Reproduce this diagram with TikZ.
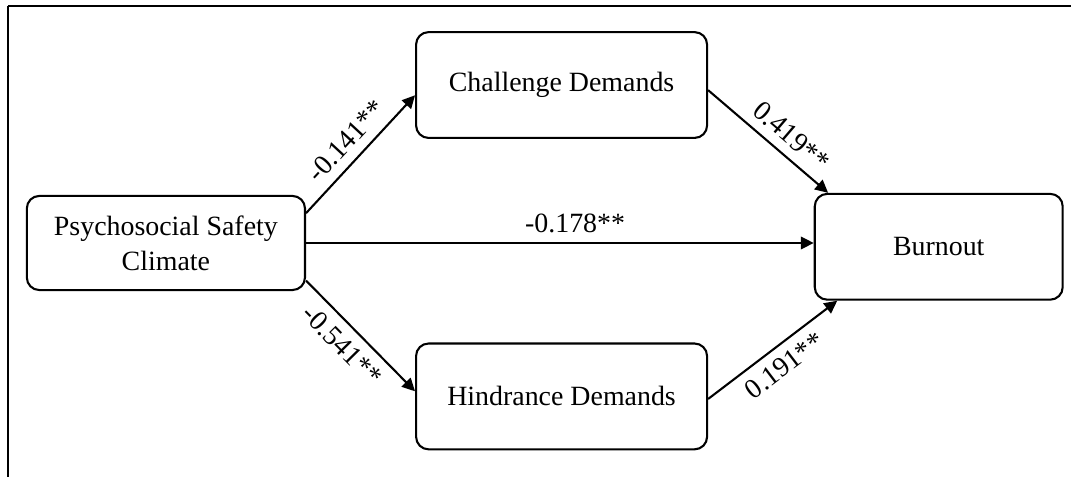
\documentclass[tikz,border=0pt]{standalone}
\usepackage{fontspec}
\setmainfont{Liberation Serif}
\usetikzlibrary{arrows.meta}

\tikzset{
  factor/.style={draw, line width=0.55mm, rounded corners=3.3mm, align=center, minimum width=77mm, minimum height=28mm, inner sep=0mm},
  link/.style={line width=0.55mm, -{Triangle[length=3.4mm, width=3.3mm]}},
  coef/.style={sloped, inner sep=2.4mm},
}

\begin{document}
\begin{tikzpicture}[font=\fontsize{21pt}{26.25pt}\selectfont]
  \useasboundingbox (0mm, 0mm) rectangle (283.4mm, 126.2mm);
  \draw[line width=0.6mm] (2.1mm, 124.6mm) -- (283.4mm, 124.6mm); % top rule
  \draw[line width=0.3mm] (2.1mm, 124.6mm) -- (2.1mm, 0mm); % left rule

  \node[factor, minimum width=73.6mm, minimum height=24.9mm] (psc) at (43.9mm, 61.9mm) {Psychosocial Safety\\Climate};
  \node[factor] (challenge) at (148.6mm, 103.7mm) {Challenge Demands};
  \node[factor] (hindrance) at (148.6mm, 21.3mm) {Hindrance Demands};
  \node[factor, minimum width=65.6mm] (burnout) at (248.4mm, 60.9mm) {Burnout};

  \draw[link] (psc.12) -- node[coef, above, midway] {-0.141**} (challenge.184);
  \draw[link] (psc.-15) -- node[coef, below, pos=0.46] {-0.541**} (hindrance.178);
  \draw[link] (psc.east) -- node[coef, above, pos=0.53] {-0.178**} (psc.east -| burnout.west);

  \draw[link] (challenge.-2) -- node[coef, above, pos=0.59] {0.419**} (burnout.154);
  \draw[link] (hindrance.-1) -- node[coef, below, pos=0.5] {0.191**} (burnout.208);
\end{tikzpicture}
\end{document}
